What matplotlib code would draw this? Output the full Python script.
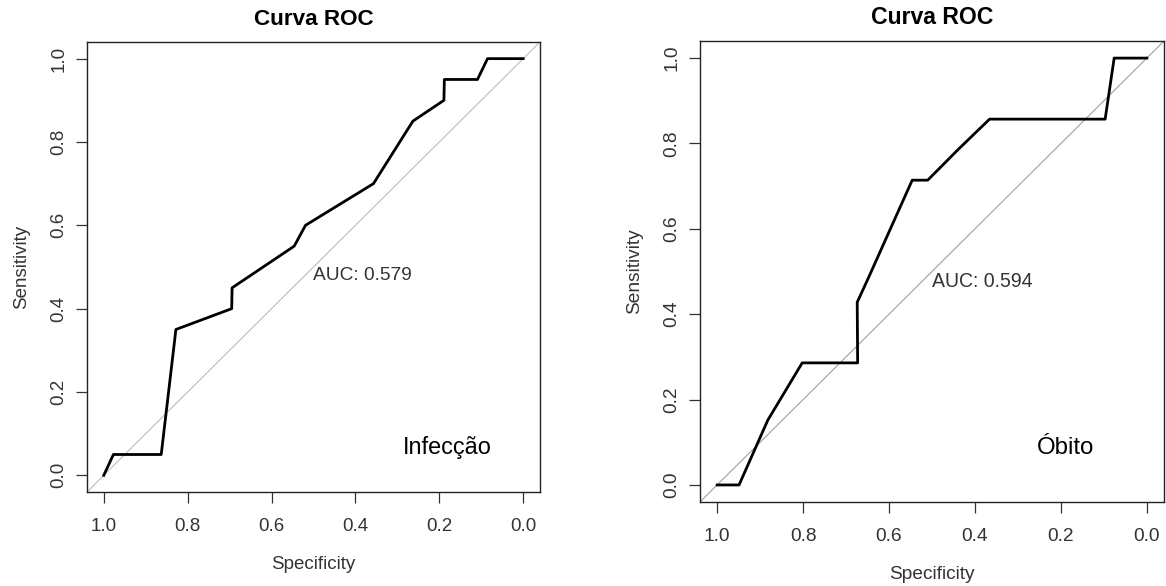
import matplotlib
matplotlib.use("Agg")
import matplotlib.pyplot as plt

plt.rcParams['font.family'] = ['Liberation Sans', 'DejaVu Sans']

# ROC points (specificity, sensitivity)
inf_spec = [1.0, 0.977, 0.863, 0.828, 0.695, 0.694, 0.546, 0.519, 0.357,
            0.263, 0.189, 0.188, 0.109, 0.085, 0.0]
inf_sens = [0.0, 0.05, 0.05, 0.35, 0.40, 0.45, 0.55, 0.60, 0.70,
            0.85, 0.90, 0.95, 0.95, 1.0, 1.0]

obi_spec = [1.0, 0.949, 0.882, 0.802, 0.673, 0.674, 0.648, 0.546, 0.510,
            0.439, 0.366, 0.097, 0.076, 0.0]
obi_sens = [0.0, 0.0, 0.152, 0.286, 0.286, 0.428, 0.485, 0.714, 0.714,
            0.786, 0.857, 0.857, 1.0, 1.0]

panels = [
    dict(spec=inf_spec, sens=inf_sens, auc="AUC: 0.579", label="Infecção",
         lab_xy=(0.18, 0.066), rect=[0.0746, 0.1604, 0.3885, 0.768], fs=13.5,
         diag='#bdbdbd', xlpad=15),
    dict(spec=obi_spec, sens=obi_sens, auc="AUC: 0.594", label="Óbito",
         lab_xy=(0.19, 0.087), rect=[0.6003, 0.1433, 0.398, 0.7867], fs=13.8,
         diag='#a0a0a0', xlpad=15),
]

fig = plt.figure(figsize=(11.66, 5.86), dpi=100)

for p in panels:
    ax = fig.add_axes(p['rect'])
    fs = p['fs']
    ax.set_xlim(1.04, -0.04)
    ax.set_ylim(-0.04, 1.04)
    # identity line across the whole box
    ax.plot([1.04, -0.04], [-0.04, 1.04], color=p['diag'], lw=0.8, zorder=1)
    ax.plot(p['spec'], p['sens'], color='black', lw=2.0, zorder=2,
            solid_joinstyle='round')
    ticks = [1.0, 0.8, 0.6, 0.4, 0.2, 0.0]
    ax.set_xticks(ticks)
    ax.set_xticklabels([f"{t:.1f}" for t in ticks])
    ax.set_yticks(ticks)
    ax.set_yticklabels([f"{t:.1f}" for t in ticks], rotation=90, va='center')
    ax.tick_params(direction='out', length=8, width=0.9, colors='#333333',
                   labelsize=fs)
    ax.tick_params(axis='x', pad=11)
    ax.tick_params(axis='y', pad=6)
    for s in ax.spines.values():
        s.set_linewidth(1.0)
        s.set_color('#222222')
    ax.set_xlabel("Specificity", fontsize=fs, color='#333333',
                  labelpad=p['xlpad'])
    ax.set_ylabel("Sensitivity", fontsize=fs, color='#333333', labelpad=15)
    ax.set_title("Curva ROC", fontsize=fs * 1.2, fontweight='bold', pad=12)
    ax.text(0.5, 0.5, p['auc'], ha='left', va='top', fontsize=fs * 1.02,
            color='#333333')
    ax.text(p['lab_xy'][0], p['lab_xy'][1], p['label'], ha='center',
            va='center', fontsize=fs * 1.25, color='black')

fig.savefig("out.png", dpi=100)
